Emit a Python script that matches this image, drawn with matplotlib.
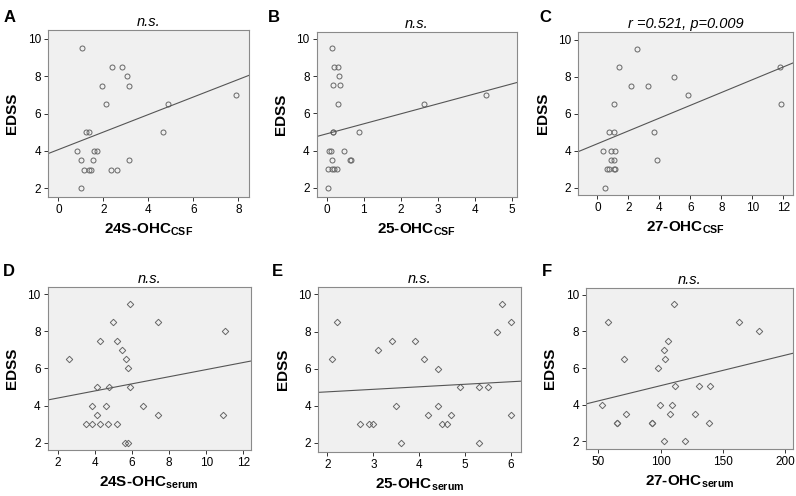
import numpy as np
import matplotlib
matplotlib.use("Agg")
import matplotlib.pyplot as plt

plt.rcParams['font.family'] = ['Liberation Sans', 'DejaVu Sans']
plt.rcParams['mathtext.fontset'] = 'custom'
plt.rcParams['mathtext.rm'] = 'Liberation Sans'
plt.rcParams['mathtext.bf'] = 'Liberation Sans:bold'

# EDSS values and oxysterol levels
a_x = [1.04, 2.37, 2.81, 3.07, 1.93, 3.16, 7.9, 2.13, 4.89, 1.23, 1.36, 4.64,
       0.83, 1.6, 1.72, 1.02, 1.54, 3.13, 1.16, 1.36, 1.45, 2.34, 2.62, 1.0]
a_y = [9.5, 8.5, 8.5, 8.0, 7.5, 7.5, 7.0, 6.5, 6.5, 5.0, 5.0, 5.0,
       4.0, 4.0, 4.0, 3.5, 3.5, 3.5, 3.0, 3.0, 3.0, 3.0, 3.0, 2.0]

b_x = [0.14, 0.21, 0.30, 0.34, 0.18, 0.36, 4.31, 0.32, 2.64, 0.16, 0.17, 0.88,
       0.07, 0.11, 0.48, 0.14, 0.64, 0.67, 0.05, 0.14, 0.19, 0.27, 0.05]
b_y = [9.5, 8.5, 8.5, 8.0, 7.5, 7.5, 7.0, 6.5, 6.5, 5.0, 5.0, 5.0,
       4.0, 4.0, 4.0, 3.5, 3.5, 3.5, 3.0, 3.0, 3.0, 3.0, 2.0]

c_x = [2.54, 1.38, 11.78, 4.95, 2.15, 3.29, 5.87, 1.05, 11.85, 0.77, 1.05, 3.68,
       0.37, 0.88, 1.12, 0.88, 1.05, 3.83, 0.65, 0.75, 1.05, 1.16, 0.47]
c_y = [9.5, 8.5, 8.5, 8.0, 7.5, 7.5, 7.0, 6.5, 6.5, 5.0, 5.0, 5.0,
       4.0, 4.0, 4.0, 3.5, 3.5, 3.5, 3.0, 3.0, 3.0, 3.0, 2.0]

d_x = [5.9, 4.98, 7.4, 11.03, 4.26, 5.2, 5.45, 2.61, 5.7, 5.77, 4.1, 4.78, 5.9,
       3.85, 4.6, 6.6, 4.14, 7.39, 10.9, 3.53, 3.83, 4.28, 4.69, 5.18, 5.63, 5.77]
d_y = [9.5, 8.5, 8.5, 8.0, 7.5, 7.5, 7.0, 6.5, 6.5, 6.0, 5.0, 5.0, 5.0,
       4.0, 4.0, 4.0, 3.5, 3.5, 3.5, 3.0, 3.0, 3.0, 3.0, 3.0, 2.0, 2.0]

e_x = [2.1, 2.2, 2.71, 2.9, 3.0, 3.1, 3.4, 3.5, 3.6, 3.9, 4.1, 4.2, 4.4, 4.4,
       4.5, 4.6, 4.7, 4.9, 5.3, 5.3, 5.5, 5.7, 5.8, 6.0, 6.0]
e_y = [6.5, 8.5, 3.0, 3.0, 3.0, 7.0, 7.5, 4.0, 2.0, 7.5, 6.5, 3.5, 6.0, 4.0,
       3.0, 3.0, 3.5, 5.0, 5.0, 2.0, 5.0, 8.0, 9.5, 8.5, 3.5]

f_x = [111, 57.8, 163.3, 178.8, 106.3, 102.5, 70.6, 103.6, 97.7, 111.9, 130.6,
       140, 53.2, 99.6, 109.2, 72.2, 107.6, 127.4, 64.7, 65.2, 92.9, 93.4,
       138.7, 103, 119.6]
f_y = [9.5, 8.5, 8.5, 8.0, 7.5, 7.0, 6.5, 6.5, 6.0, 5.0, 5.0,
       5.0, 4.0, 4.0, 4.0, 3.5, 3.5, 3.5, 3.0, 3.0, 3.0, 3.0,
       3.0, 2.0, 2.0]

# regression lines as drawn (intercept, slope)
fit_a = (4.07, 0.47)
fit_b = (4.90, 0.536)
fit_c = (4.37, 0.346)
fit_d = (4.02, 0.192)
fit_e = (4.48, 0.136)
fit_f = (3.38, 0.0166)

titles = ['n.s.', 'n.s.', 'r =0.521, p=0.009', 'n.s.', 'n.s.', 'n.s.']
letters = ['A', 'B', 'C', 'D', 'E', 'F']
xlabels = [r'24S-OHC$_{\mathbf{CSF}}$', r'25-OHC$_{\mathbf{CSF}}$',
           r'27-OHC$_{\mathbf{CSF}}$', r'24S-OHC$_{\mathbf{serum}}$',
           r'25-OHC$_{\mathbf{serum}}$', r'27-OHC$_{\mathbf{serum}}$']
xticks = [[0, 2, 4, 6, 8], [0, 1, 2, 3, 4, 5], [0, 2, 4, 6, 8, 10, 12],
          [2, 4, 6, 8, 10, 12], [2, 3, 4, 5, 6], [50, 100, 150, 200]]

# layout
rects = [[0.0603, 0.6028, 0.2525, 0.3367], [0.3978, 0.6034, 0.2513, 0.3327],
         [0.7265, 0.6069, 0.2701, 0.3292], [0.0599, 0.0927, 0.2550, 0.3292],
         [0.3999, 0.0893, 0.2546, 0.3315], [0.7362, 0.0948, 0.2604, 0.3252]]
xlims = [(-0.46, 8.47), (-0.27, 5.14), (-1.23, 12.65),
         (1.46, 12.39), (1.80, 6.22), (40.1, 206.7)]
ylims = [(1.53, 10.48), (1.52, 10.39), (1.60, 10.43),
         (1.60, 10.41), (1.53, 10.38), (1.59, 10.38)]
letter_pos = [(0.004, 0.980), (0.337, 0.980), (0.677, 0.980),
              (0.004, 0.467), (0.342, 0.467), (0.681, 0.467)]

xs = [a_x, b_x, c_x, d_x, e_x, f_x]
ys = [a_y, b_y, c_y, d_y, e_y, f_y]
fits = [fit_a, fit_b, fit_c, fit_d, fit_e, fit_f]

fig = plt.figure(figsize=(7.96, 4.96), dpi=100)

for i in range(6):
    ax = fig.add_axes(rects[i])
    ax.set_facecolor('#f0f0f0')
    marker = 'o' if i < 3 else 'D'
    ms = 3.6 if i < 3 else 3.3
    ax.plot(xs[i], ys[i], linestyle='none', marker=marker, markersize=ms,
            markerfacecolor='none', markeredgecolor='#666666',
            markeredgewidth=0.7)
    x0, x1 = xlims[i]
    b0, b1 = fits[i]
    ax.plot([x0, x1], [b0 + b1 * x0, b0 + b1 * x1], color='#555555',
            linewidth=0.8)
    ax.set_xlim(xlims[i])
    ax.set_ylim(ylims[i])
    ax.set_xticks(xticks[i])
    ax.set_yticks([2, 4, 6, 8, 10])
    ax.tick_params(labelsize=8.5, length=3, width=0.7, color='#333333',
                   pad=2)
    for s in ax.spines.values():
        s.set_color('#8a8a8a')
        s.set_linewidth(0.8)
    ax.set_xlabel(xlabels[i], fontsize=11, fontweight='bold', labelpad=4)
    ax.set_ylabel('EDSS', fontsize=11, fontweight='bold', labelpad=6)
    ax.set_title(titles[i], fontsize=10.5, style='italic', pad=3)
    fig.text(letter_pos[i][0], letter_pos[i][1], letters[i], fontsize=12,
             fontweight='bold', va='top', ha='left')

fig.savefig('out.png', dpi=100)
